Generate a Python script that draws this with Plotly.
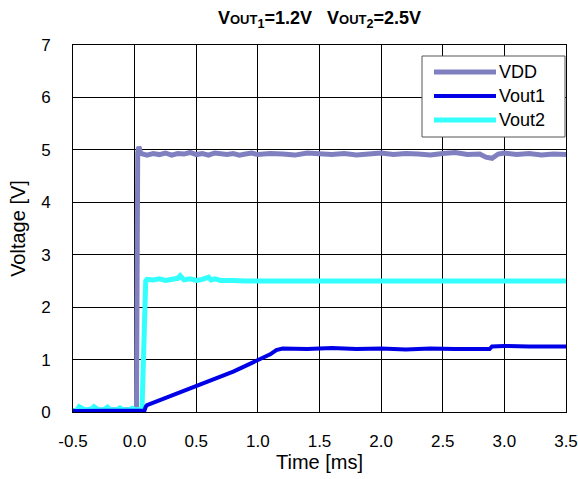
import plotly.graph_objects as go

# Supply voltage trace
vdd_t = [-0.50, -0.30, -0.10, 0.00, 0.015, 0.025, 0.035, 0.05, 0.10, 0.15, 0.20, 0.25, 0.30, 0.35,
         0.40, 0.45, 0.50, 0.55, 0.60, 0.65, 0.70, 0.75, 0.80, 0.85, 0.90, 0.95, 1.00, 1.10,
         1.20, 1.30, 1.40, 1.50, 1.60, 1.70, 1.80, 1.90, 2.00, 2.10, 2.20, 2.30, 2.40, 2.50,
         2.60, 2.70, 2.80, 2.85, 2.90, 2.95, 3.00, 3.10, 3.20, 3.30, 3.40, 3.50]
vdd_v = [0.03, 0.04, 0.03, 0.04, 0.05, 4.95, 5.06, 4.93, 4.90, 4.93, 4.91, 4.94, 4.90, 4.93,
         4.92, 4.95, 4.91, 4.93, 4.90, 4.94, 4.92, 4.91, 4.93, 4.90, 4.92, 4.94, 4.91, 4.93,
         4.92, 4.90, 4.94, 4.92, 4.91, 4.93, 4.90, 4.92, 4.94, 4.91, 4.93, 4.92, 4.90, 4.93,
         4.95, 4.91, 4.92, 4.86, 4.84, 4.92, 4.94, 4.91, 4.93, 4.90, 4.92, 4.91]

# Output 1 (1.2 V rail)
vout1_t = [-0.50, 0.00, 0.08, 0.09, 0.10, 0.20, 0.30, 0.40, 0.50, 0.60, 0.70, 0.80, 0.90,
           1.00, 1.10, 1.15, 1.20, 1.40, 1.60, 1.80, 2.00, 2.20, 2.40, 2.60, 2.80, 2.88,
           2.90, 3.00, 3.20, 3.40, 3.50]
vout1_v = [0.02, 0.02, 0.03, 0.10, 0.13, 0.22, 0.31, 0.40, 0.50, 0.58, 0.68, 0.77, 0.88,
           0.98, 1.10, 1.18, 1.21, 1.20, 1.22, 1.20, 1.21, 1.19, 1.21, 1.20, 1.19, 1.20,
           1.25, 1.26, 1.25, 1.26, 1.25]

# Output 2 (2.5 V rail)
vout2_t = [-0.50, -0.47, -0.45, -0.42, -0.40, -0.35, -0.33, -0.30, -0.25, -0.22, -0.20,
           -0.15, -0.12, -0.10, -0.05, -0.02, 0.00, 0.03, 0.06, 0.09, 0.10, 0.15, 0.20,
           0.25, 0.30, 0.35, 0.37, 0.40, 0.45, 0.50, 0.55, 0.60, 0.62, 0.65, 0.70, 0.75,
           0.80, 0.90, 1.00, 1.50, 2.00, 2.50, 3.00, 3.50]
vout2_v = [0.02, 0.03, 0.10, 0.05, 0.04, 0.06, 0.10, 0.05, 0.04, 0.09, 0.05,
           0.04, 0.08, 0.05, 0.04, 0.07, 0.04, 0.05, 0.05, 2.50, 2.53, 2.52, 2.54,
           2.51, 2.53, 2.55, 2.60, 2.52, 2.54, 2.51, 2.53, 2.57, 2.52, 2.54, 2.51, 2.52,
           2.51, 2.50, 2.50, 2.50, 2.50, 2.50, 2.50, 2.50]

# Time-axis ticks (plain hyphen for the negative label)
x_tickvals = [-0.5, 0.0, 0.5, 1.0, 1.5, 2.0, 2.5, 3.0, 3.5]
x_ticktext = ["-0.5", "0.0", "0.5", "1.0", "1.5", "2.0", "2.5", "3.0", "3.5"]

FONT = "Liberation Sans, Arial, sans-serif"
W, H = 578, 479
ML, MR, MT, MB = 73, 12, 45, 67

series = [
    # name, t, v, colour, width
    ("VDD", vdd_t, vdd_v, "#8080C0", 5),
    ("Vout2", vout2_t, vout2_v, "#33FFFF", 5),
    ("Vout1", vout1_t, vout1_v, "#0000E6", 4),
]
legend_order = ["VDD", "Vout1", "Vout2"]

fig = go.Figure()
for name, t, v, col, w in series:
    fig.add_trace(go.Scatter(x=t, y=v, mode="lines", name=name, showlegend=False,
                             line=dict(color=col, width=w)))

# Hand-built legend box (wide line samples), positioned in paper coordinates
pw, ph = W - ML - MR, H - MT - MB
def px(x):
    return (x - ML) / pw
def py(y):
    return (H - MB - y) / ph

fig.add_shape(type="rect", xref="paper", yref="paper",
              x0=px(422), x1=px(565), y0=py(137), y1=py(56),
              line=dict(color="#555555", width=1), fillcolor="white", layer="above")
style = {name: (col, w) for name, _, _, col, w in series}
for i, name in enumerate(legend_order):
    yc = 72 + 24 * i
    col, w = style[name]
    fig.add_shape(type="line", xref="paper", yref="paper",
                  x0=px(434), x1=px(496), y0=py(yc), y1=py(yc),
                  line=dict(color=col, width=w), layer="above")
    fig.add_annotation(text=name, xref="paper", yref="paper", x=px(497), y=py(yc),
                       xanchor="left", yanchor="middle", showarrow=False,
                       font=dict(size=18, family=FONT, color="black"))

title = ("<b>V<span style='font-size:13px'>OUT</span><sub>1</sub>=1.2V&nbsp;&nbsp;&nbsp;"
         "V<span style='font-size:13px'>OUT</span><sub>2</sub>=2.5V</b>")

fig.update_layout(
    width=W, height=H,
    margin=dict(l=ML, r=MR, t=MT, b=MB),
    paper_bgcolor="white", plot_bgcolor="white",
    font=dict(family=FONT, size=17, color="black"),
    title=dict(text=title, x=0.5, xref="paper", y=1 - 18 / H, yref="container",
               xanchor="center", yanchor="middle", font=dict(size=18, family=FONT)),
    showlegend=False,
)
fig.update_xaxes(range=[-0.5, 3.5], tickvals=x_tickvals, ticktext=x_ticktext,
                 showgrid=True, gridcolor="black", gridwidth=1, automargin=False,
                 showline=True, linecolor="black", linewidth=1, mirror=True,
                 zeroline=False, ticks="", ticklabelstandoff=14,
                 title=dict(text="Time [ms]", standoff=4))
fig.update_yaxes(range=[0, 7], dtick=1, showgrid=True, gridcolor="black", gridwidth=1,
                 showline=True, linecolor="black", linewidth=1, mirror=True, automargin=False,
                 zeroline=False, ticks="", ticklabelstandoff=18,
                 title=dict(text="Voltage [V]", standoff=10))

fig.write_html("out.html")
